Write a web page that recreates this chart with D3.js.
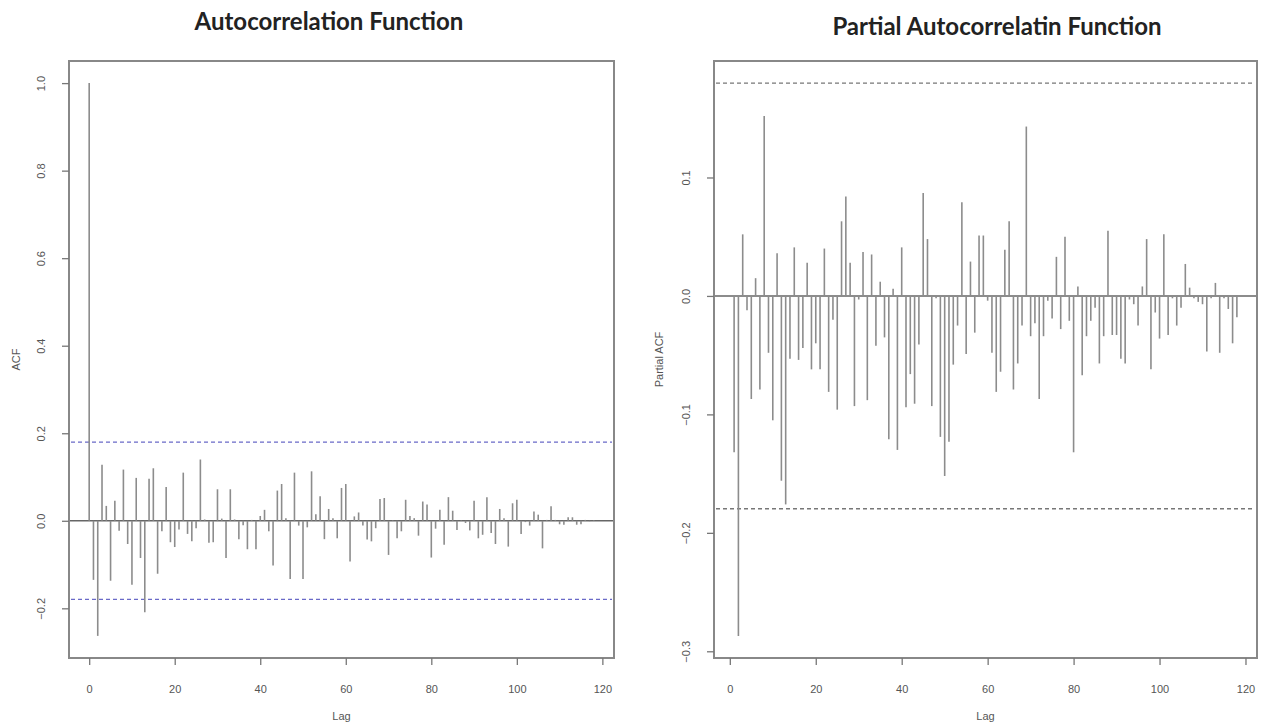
<!DOCTYPE html>
<html lang="en">
<head>
<meta charset="UTF-8">
<title>ACF / PACF</title>
<script src="https://d3js.org/d3.v7.min.js"></script>
<style>
  body { margin: 0; background: #fff; }
  svg { display: block; }
  .title { font-family: Lato, "Open Sans", sans-serif; font-weight: bold; font-size: 24px; fill: #222; text-anchor: middle; }
  .lab { font-family: "Liberation Sans", Arial, sans-serif; font-size: 11px; fill: #555; text-anchor: middle; }
  .axis text { font-family: "Liberation Sans", Arial, sans-serif; font-size: 11px; fill: #555; }
  .axis path, .axis line { stroke: #777; stroke-width: 1.3; }
</style>
</head>
<body>
<script>
// ACF, lags 0..118
var acfVals = [1.0, -0.135, -0.263, 0.128, 0.034, -0.137, 0.046, -0.023, 0.117, -0.053,
  -0.146, 0.098, -0.085, -0.209, 0.096, 0.120, -0.121, -0.024, 0.077, -0.049,
  -0.060, -0.020, 0.110, -0.030, -0.047, -0.017, 0.140, 0.003, -0.050, -0.049,
  0.072, 0.005, -0.085, 0.072, 0.003, -0.042, -0.010, -0.065, 0.002, -0.065,
  0.011, 0.025, -0.024, -0.102, 0.069, 0.084, 0.006, -0.133, 0.110, -0.011,
  -0.133, -0.015, 0.113, 0.015, 0.056, -0.042, 0.027, 0.006, -0.040, 0.075,
  0.084, -0.093, 0.010, 0.019, -0.011, -0.043, -0.047, -0.017, 0.050, 0.052,
  -0.078, 0.001, -0.040, -0.024, 0.048, 0.011, 0.006, -0.034, 0.044, 0.037,
  -0.084, -0.018, 0.025, -0.055, 0.054, 0.023, -0.021, 0.001, -0.005, -0.022,
  0.046, -0.040, -0.032, 0.054, -0.028, -0.053, 0.027, 0.006, -0.059, 0.040,
  0.048, -0.030, -0.003, -0.011, 0.021, 0.014, -0.063, 0.002, 0.033, 0.002,
  -0.008, -0.009, 0.008, 0.008, -0.009, -0.008, 0.002, -0.001, 0.001];

// PACF, lags 1..118
var pacfVals = [-0.132, -0.287, 0.052, -0.012, -0.087, 0.015, -0.079, 0.152, -0.048, -0.105,
  0.036, -0.156, -0.176, -0.053, 0.041, -0.054, -0.044, 0.028, -0.062, -0.040,
  -0.062, 0.040, -0.081, -0.020, -0.096, 0.063, 0.084, 0.028, -0.093, -0.003,
  0.037, -0.088, 0.035, -0.042, 0.012, -0.035, -0.121, 0.006, -0.130, 0.041,
  -0.094, -0.066, -0.091, -0.041, 0.087, 0.048, -0.093, -0.002, -0.119, -0.152,
  -0.123, -0.058, -0.025, 0.079, -0.049, 0.029, -0.031, 0.051, 0.051, -0.004,
  -0.048, -0.081, -0.064, 0.039, 0.063, -0.079, -0.057, -0.025, 0.143, -0.034,
  -0.023, -0.087, -0.034, -0.004, -0.019, 0.033, -0.028, 0.050, -0.021, -0.132,
  0.008, -0.067, -0.034, -0.021, -0.010, -0.057, -0.034, 0.055, -0.033, -0.033,
  -0.053, -0.057, -0.003, -0.007, -0.025, 0.008, 0.048, -0.062, -0.014, -0.036,
  0.052, -0.033, -0.002, -0.025, -0.010, 0.027, 0.007, -0.002, -0.005, -0.007,
  -0.047, -0.002, 0.011, -0.048, -0.002, -0.011, -0.040, -0.018];

var nObs = 119;
var ci = 1.96 / Math.sqrt(nObs);

var lagTicks = [0, 20, 40, 60, 80, 100, 120];
var acfTicks = [-0.2, 0.0, 0.2, 0.4, 0.6, 0.8, 1.0];
var pacfTicks = [-0.3, -0.2, -0.1, 0.0, 0.1];

var svg = d3.select("body").append("svg")
  .attr("width", 1266).attr("height", 727);

function panel(opts) {
  var data = opts.values.map(function(v, i) { return { lag: i + opts.firstLag, v: v }; });
  var lags = d3.extent(data, function(d) { return d.lag; });
  var lo = Math.min(d3.min(data, function(d) { return d.v; }), -ci);
  var hi = Math.max(d3.max(data, function(d) { return d.v; }), ci);
  var px = 0.04 * (lags[1] - lags[0]), py = 0.04 * (hi - lo);

  var x = d3.scaleLinear().domain([lags[0] - px, lags[1] + px]).range([opts.left, opts.right]);
  var y = d3.scaleLinear().domain([lo - py, hi + py]).range([opts.bottom, opts.top]);

  var g = svg.append("g");

  // dashed confidence lines
  [ci, -ci].forEach(function(c) {
    g.append("line")
      .attr("x1", opts.left + 2).attr("x2", opts.right - 2)
      .attr("y1", y(c)).attr("y2", y(c))
      .attr("stroke", opts.ciColor).attr("stroke-width", 1.3)
      .attr("stroke-dasharray", "4,3");
  });

  // zero line
  g.append("line")
    .attr("x1", opts.left).attr("x2", opts.right)
    .attr("y1", y(0)).attr("y2", y(0))
    .attr("stroke", "#666").attr("stroke-width", 1.5);

  // spikes
  g.append("g").selectAll("line").data(data).enter().append("line")
    .attr("x1", function(d) { return x(d.lag); })
    .attr("x2", function(d) { return x(d.lag); })
    .attr("y1", y(0))
    .attr("y2", function(d) { return y(d.v); })
    .attr("stroke", "#8c8c8c").attr("stroke-width", 1.6);

  // box
  g.append("rect")
    .attr("x", opts.left).attr("y", opts.top)
    .attr("width", opts.right - opts.left).attr("height", opts.bottom - opts.top)
    .attr("fill", "none").attr("stroke", "#888").attr("stroke-width", 2);

  // axes
  var xa = g.append("g").attr("class", "axis")
    .attr("transform", "translate(0," + opts.bottom + ")")
    .call(d3.axisBottom(x).tickValues(lagTicks).tickSize(7).tickPadding(20).tickFormat(d3.format("d")));
  xa.select(".domain").remove();

  var ya = g.append("g").attr("class", "axis")
    .attr("transform", "translate(" + opts.left + ",0)")
    .call(d3.axisLeft(y).tickValues(opts.yTicks).tickSize(7).tickFormat(d3.format(".1f")));
  ya.select(".domain").remove();
  ya.selectAll("text")
    .attr("transform", "rotate(-90)")
    .attr("x", 0).attr("y", -24).attr("dy", 0)
    .style("text-anchor", "middle");

  // titles and labels
  svg.append("text").attr("class", "title")
    .attr("x", opts.titleX).attr("y", opts.titleY).text(opts.title);
  svg.append("text").attr("class", "lab")
    .attr("x", (opts.left + opts.right) / 2).attr("y", 720).text("Lag");
  svg.append("text").attr("class", "lab")
    .attr("transform", "translate(" + opts.ylabX + "," + (opts.top + opts.bottom) / 2 + ") rotate(-90)")
    .text(opts.ylab);
}

panel({
  values: acfVals, firstLag: 0, yTicks: acfTicks,
  left: 69, right: 614, top: 61, bottom: 658,
  ciColor: "#6a6ac8", title: "Autocorrelation Function", titleX: 329, titleY: 30,
  ylab: "ACF", ylabX: 20
});

panel({
  values: pacfVals, firstLag: 1, yTicks: pacfTicks,
  left: 714, right: 1257, top: 61, bottom: 658,
  ciColor: "#777", title: "Partial Autocorrelatin Function", titleX: 997, titleY: 35,
  ylab: "Partial ACF", ylabX: 663
});
</script>
</body>
</html>
